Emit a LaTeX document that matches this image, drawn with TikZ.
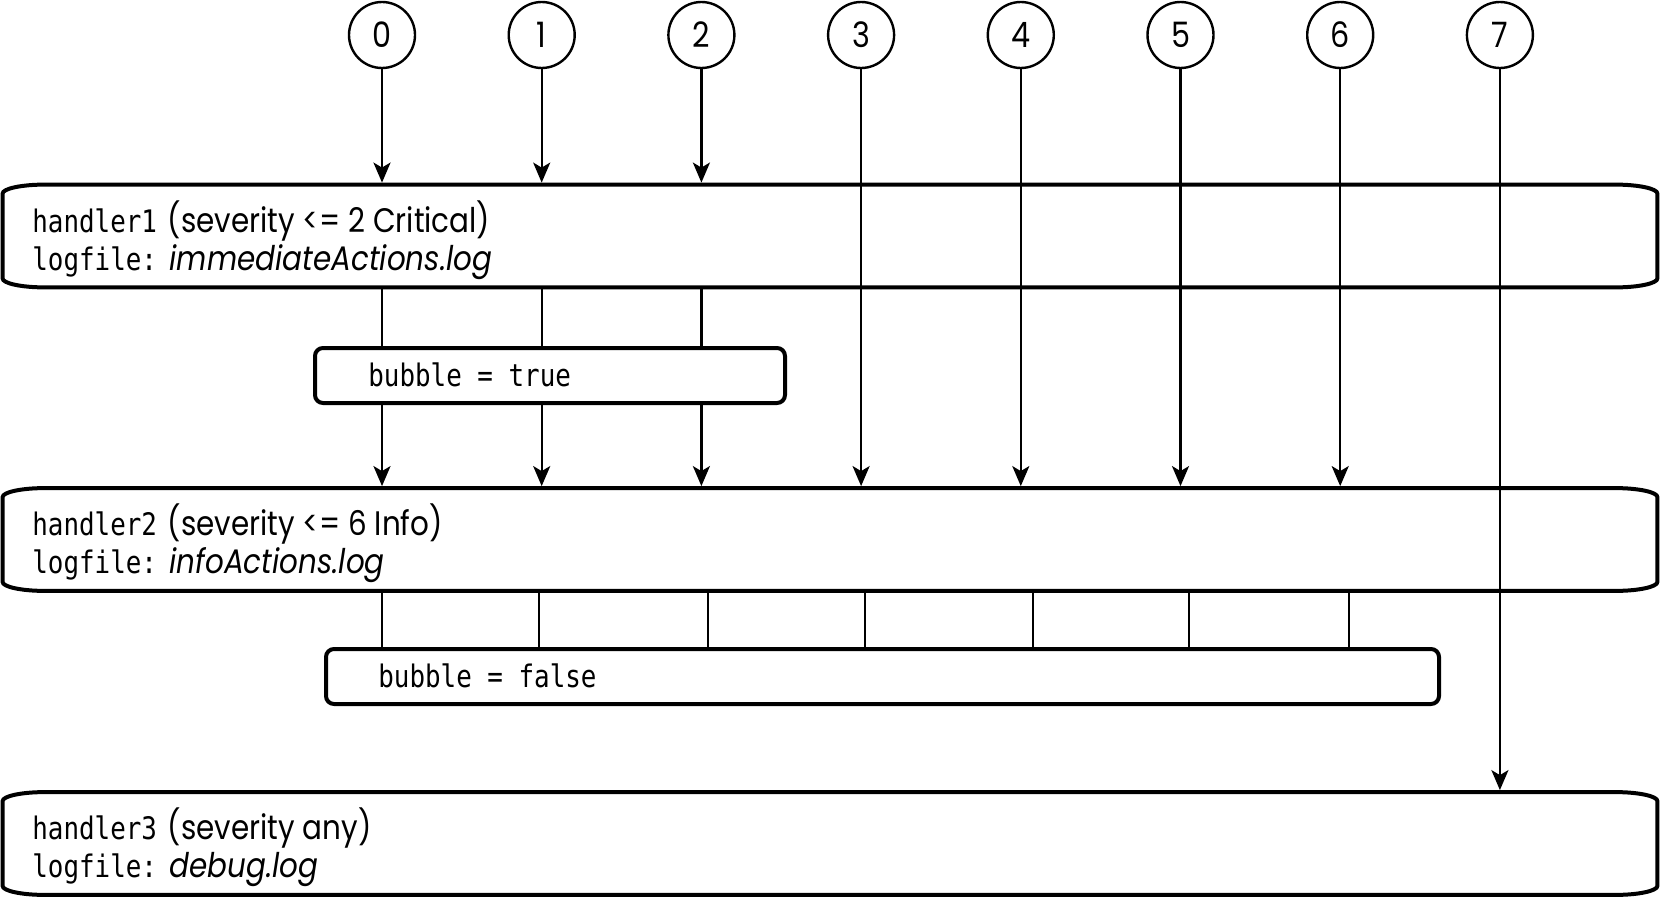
\documentclass[tikz,border=0pt]{standalone}
\usepackage{fontspec}
\setmainfont{Poppins}[FakeStretch=0.865]
\newfontfamily\monofont{DejaVu Sans Mono}[FakeStretch=0.835]
\usetikzlibrary{arrows.meta,calc}
\newcommand\drawhandlerframe[1]{%
  \draw[frameline] ($(#1.north west)+(42,0)$) -- ($(#1.north east)+(-42,0)$)
    .. controls ($(#1.north east)+(-19,0)$) and ($(#1.north east)+(0,4)$) .. ($(#1.north east)+(0,9)$)
    -- ($(#1.south east)+(0,-9)$)
    .. controls ($(#1.south east)+(0,-4)$) and ($(#1.south east)+(-19,0)$) .. ($(#1.south east)+(-42,0)$)
    -- ($(#1.south west)+(42,0)$)
    .. controls ($(#1.south west)+(19,0)$) and ($(#1.south west)+(0,-4)$) .. ($(#1.south west)+(0,-9)$)
    -- ($(#1.north west)+(0,9)$)
    .. controls ($(#1.north west)+(0,4)$) and ($(#1.north west)+(19,0)$) .. ($(#1.north west)+(42,0)$)
    -- cycle;}
\newcommand\mono[1]{{\fontsize{15.5}{19}\monofont #1}}
\begin{document}
\begin{tikzpicture}[x=0.5pt,y=-0.5pt,
  frameline/.style={line width=2pt, black},
  handlerbox/.style={rectangle, inner sep=0pt, minimum width=827pt, minimum height=51pt},
  bubblebox/.style={rectangle, draw, line width=2pt, rounded corners=4pt, inner sep=0pt, minimum height=27.5pt},
  num/.style={circle, draw, line width=1.2pt, minimum size=33pt, inner sep=0pt, font=\fontsize{17.5}{19}\selectfont},
  txt/.style={anchor=base west, inner sep=0pt, font=\fontsize{17}{19}\selectfont},
  monotxt/.style={anchor=base west, inner sep=0pt, font=\fontsize{15.5}{19}\selectfont\monofont},
  conn/.style={line width=1.2pt, black},
  arr/.style={conn, -{Stealth[length=10pt,width=8.5pt,inset=2.5pt]}, shorten >=1pt}
]
\fill[white] (0,0) rectangle (1660,899);
\useasboundingbox (0,0) rectangle (1660,899);

% handler boxes
\node[handlerbox] (h1) at (830,236) {};
\node[handlerbox] (h2) at (830,539.5) {};
\node[handlerbox] (h3) at (830,843.5) {};
\drawhandlerframe{h1}
\drawhandlerframe{h2}
\drawhandlerframe{h3}

\node[txt] (t1a) at (32,232) {\mono{handler1}\hspace{1.5pt} (severity <= 2 Critical)};
\node[txt] (t1b) at (32,270) {\mono{logfile:}\hspace{1pt} \textit{immediateActions.log}};
\node[txt] (t2a) at (32,535.5) {\mono{handler2}\hspace{1.5pt} (severity <= 6 Info)};
\node[txt] (t2b) at (32,573.5) {\mono{logfile:}\hspace{1pt} \textit{infoActions.log}};
\node[txt] (t3a) at (32,839.5) {\mono{handler3}\hspace{1.5pt} (severity any)};
\node[txt] (t3b) at (32,877.5) {\mono{logfile:}\hspace{1pt} \textit{debug.log}};

% bubble boxes
\node[bubblebox, minimum width=235pt] (b1) at (550,375.5) {};
\node[monotxt] (b1t) at (368,386) {bubble = true};
\node[bubblebox, minimum width=556.5pt] (b2) at (882.5,676.5) {};
\node[monotxt] (b2t) at (378,687) {bubble = false};

% numbered circles
\foreach \i in {0,...,7}
  \node[num] (c\i) at ({382+159.7*\i},35) {\i};

% connectors
\foreach \i in {0,1,2} {
  \draw[arr] (c\i) -- (c\i |- h1.north);
  \draw[conn] (c\i |- h1.south) -- (c\i |- b1.north);
  \draw[arr] (c\i |- b1.south) -- (c\i |- h2.north);
}
\foreach \i in {3,...,6}
  \draw[arr] (c\i) -- (c\i |- h2.north);
\draw[arr] (c7) -- (c7 |- h3.north);

\foreach \x in {382,539,708,865,1033,1189,1349} {
  \coordinate (k\x) at (\x,600);
  \draw[conn] (k\x |- h2.south) -- (k\x |- b2.north);
}
\end{tikzpicture}
\end{document}
